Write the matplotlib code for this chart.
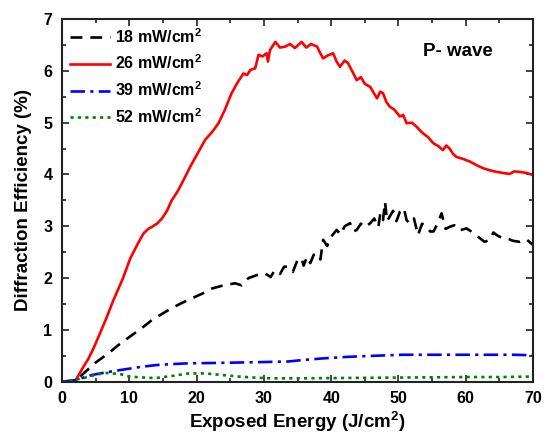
import matplotlib
matplotlib.use("Agg")
import matplotlib.pyplot as plt
from matplotlib.ticker import MultipleLocator

plt.rcParams['font.family'] = ['Liberation Sans', 'DejaVu Sans']
plt.rcParams['font.weight'] = 'bold'
plt.rcParams['mathtext.fontset'] = 'custom'
plt.rcParams['mathtext.rm'] = 'Liberation Sans:bold'
plt.rcParams['mathtext.bf'] = 'Liberation Sans:bold'

# 18 mW/cm2 (black dashed)
x18 = [0, 2.0, 3.46, 5.0, 6.9, 8.5, 10.4, 12.0, 13.36, 15.0, 16.3, 17.8, 19.3, 21.0, 22.3, 24.0, 25.7, 26.7, 27.7, 29.0, 30.2, 31.0, 31.6, 32.4, 33.0, 33.6, 34.3, 35.0, 35.6, 35.9, 36.4, 36.9, 37.4, 37.9, 38.4, 38.8, 39.4, 40.0, 40.8, 41.4, 42.0, 42.8, 43.3, 43.8, 44.4, 45.0, 45.8, 46.4, 47.0, 47.3, 47.7, 48.0, 48.3, 48.7, 49.2, 49.7, 50.2, 50.8, 51.2, 51.7, 52.3, 52.9, 53.5, 54.2, 54.7, 55.2, 55.8, 56.4, 57.0, 57.6, 58.3, 59.0, 60.1, 60.8, 61.4, 62.1, 62.8, 63.6, 64.1, 64.6, 65.3, 66.1, 67.0, 68.0, 69.0, 70.0]
y18 = [0, 0.02, 0.19, 0.37, 0.55, 0.72, 0.90, 1.05, 1.19, 1.32, 1.42, 1.52, 1.61, 1.71, 1.80, 1.86, 1.90, 1.86, 2.0, 2.06, 2.09, 2.02, 2.15, 2.08, 2.22, 2.22, 2.12, 2.35, 2.38, 2.24, 2.41, 2.29, 2.45, 2.48, 2.36, 2.74, 2.62, 2.80, 2.93, 2.84, 3.00, 3.06, 2.90, 2.93, 3.05, 2.98, 3.06, 3.15, 2.98, 3.25, 3.12, 3.47, 3.10, 3.19, 3.30, 3.10, 3.28, 3.35, 3.12, 3.05, 3.15, 2.83, 3.05, 2.99, 2.90, 2.90, 3.05, 3.25, 2.95, 2.99, 3.02, 2.92, 2.96, 2.90, 2.84, 2.77, 2.70, 2.74, 2.88, 2.83, 2.78, 2.77, 2.72, 2.70, 2.75, 2.64]

# 26 mW/cm2 (red solid)
x26 = [0, 1.0, 2.0, 3.0, 3.95, 4.7, 5.43, 6.5, 7.66, 9.0, 10.14, 11.2, 12.1, 12.8, 13.36, 14.1, 14.85, 15.6, 16.3, 17.2, 18.05, 19.05, 20.2, 21.27, 22.3, 23.25, 24.2, 25.2, 26.1, 26.96, 27.5, 28.0, 28.7, 29.2, 29.8, 30.4, 30.6, 30.9, 31.7, 32.4, 33.2, 33.9, 34.6, 35.6, 36.3, 37.0, 37.9, 38.3, 38.8, 39.5, 40.3, 40.8, 41.3, 42.0, 42.5, 43.1, 43.8, 44.4, 45.0, 45.8, 46.3, 46.8, 47.3, 47.7, 48.2, 48.7, 49.4, 50.2, 50.7, 51.2, 52.0, 52.7, 53.2, 53.7, 54.4, 55.2, 55.9, 56.6, 57.1, 57.6, 58.1, 58.6, 59.6, 60.6, 61.6, 62.6, 63.6, 64.6, 65.5, 66.5, 67.2, 68.0, 69.0, 70.0]
y26 = [0, 0.0, 0.02, 0.25, 0.45, 0.65, 0.87, 1.2, 1.58, 1.98, 2.38, 2.65, 2.86, 2.95, 2.99, 3.05, 3.15, 3.30, 3.50, 3.68, 3.89, 4.15, 4.42, 4.67, 4.82, 4.99, 5.25, 5.57, 5.78, 5.95, 5.92, 6.02, 6.05, 6.31, 6.28, 6.34, 6.18, 6.40, 6.56, 6.45, 6.47, 6.52, 6.44, 6.56, 6.45, 6.52, 6.47, 6.36, 6.24, 6.30, 6.34, 6.18, 6.08, 6.20, 6.15, 6.00, 5.82, 5.88, 5.75, 5.69, 5.58, 5.47, 5.60, 5.57, 5.40, 5.31, 5.25, 5.12, 5.15, 4.99, 5.00, 4.92, 4.85, 4.79, 4.72, 4.60, 4.55, 4.47, 4.56, 4.50, 4.40, 4.34, 4.30, 4.25, 4.18, 4.12, 4.08, 4.05, 4.03, 4.01, 4.06, 4.05, 4.03, 3.99]

# 39 mW/cm2 (blue dash-dot)
x39 = [0, 2.0, 4.45, 6.5, 8.9, 11.4, 13.9, 16.3, 18.8, 22.0, 26.2, 30.0, 33.6, 35.9, 38.8, 42.5, 46.3, 50.5, 54.6, 59.0, 63.6, 67.0, 70.0]
y39 = [0, 0.03, 0.13, 0.18, 0.23, 0.28, 0.32, 0.34, 0.355, 0.36, 0.37, 0.38, 0.39, 0.42, 0.45, 0.48, 0.50, 0.52, 0.52, 0.52, 0.52, 0.52, 0.51]

# 52 mW/cm2 (green dotted)
x52 = [0, 2.0, 3.5, 4.9, 6.4, 7.5, 8.9, 10.0, 11.4, 13.9, 16.3, 18.8, 21.3, 23.7, 26.2, 28.5, 31.1, 35.0, 40.0, 45.0, 50.0, 55.0, 60.0, 65.0, 70.0]
y52 = [0, 0.04, 0.08, 0.13, 0.17, 0.16, 0.14, 0.10, 0.085, 0.07, 0.11, 0.16, 0.16, 0.13, 0.10, 0.08, 0.065, 0.065, 0.07, 0.075, 0.08, 0.085, 0.09, 0.09, 0.10]

labels = ['18 mW/cm$^{2}$', '26 mW/cm$^{2}$', '39 mW/cm$^{2}$', '52 mW/cm$^{2}$']

fig = plt.figure(figsize=(5.49, 4.34), dpi=100)
ax = fig.add_axes([0.113, 0.1205, 0.858, 0.8355])

ax.plot(x18, y18, color='black', lw=1.9, dashes=(4.5, 3.0), label=labels[0])
ax.plot(x26, y26, color='#ff0000', lw=1.9, label=labels[1])
ax.plot(x39, y39, color='#0000ff', lw=1.9, dashes=(5.5, 2.0, 1.2, 2.0), label=labels[2])
ax.plot(x52, y52, color='#008000', lw=1.9, dashes=(1.2, 1.6), label=labels[3])

ax.set_xlim(0, 70)
ax.set_ylim(0, 7)
ax.xaxis.set_major_locator(MultipleLocator(10))
ax.xaxis.set_minor_locator(MultipleLocator(5))
ax.yaxis.set_major_locator(MultipleLocator(1))
ax.yaxis.set_minor_locator(MultipleLocator(0.5))
ax.tick_params(which='both', direction='in', top=True, right=True, width=1.2, colors='#222222', labelcolor='black')
ax.tick_params(which='major', length=5, labelsize=11.5)
ax.tick_params(axis='x', which='major', pad=7)
ax.tick_params(axis='y', which='major', pad=7)
ax.tick_params(which='minor', length=3)
for lab in ax.get_xticklabels() + ax.get_yticklabels():
    lab.set_fontweight('bold')
for s in ax.spines.values():
    s.set_linewidth(1.5)
    s.set_color('#222222')

ax.set_xlabel('Exposed Energy (J/cm$^{2}$)', fontsize=13.5, fontweight='bold', labelpad=2)
ax.set_ylabel('Diffraction Efficiency (%)', fontsize=13.5, fontweight='bold', labelpad=8)

ax.text(0.915, 0.91, 'P- wave', transform=ax.transAxes, fontsize=13.5, fontweight='bold', ha='right', va='center')

leg = ax.legend(loc='upper left', frameon=False, fontsize=11.5, handlelength=2.5, handletextpad=0.3,
                labelspacing=0.5, borderaxespad=0.1, bbox_to_anchor=(0.0, 1.0))
for t in leg.get_texts():
    t.set_fontweight('bold')

fig.savefig('out.png', dpi=100)
